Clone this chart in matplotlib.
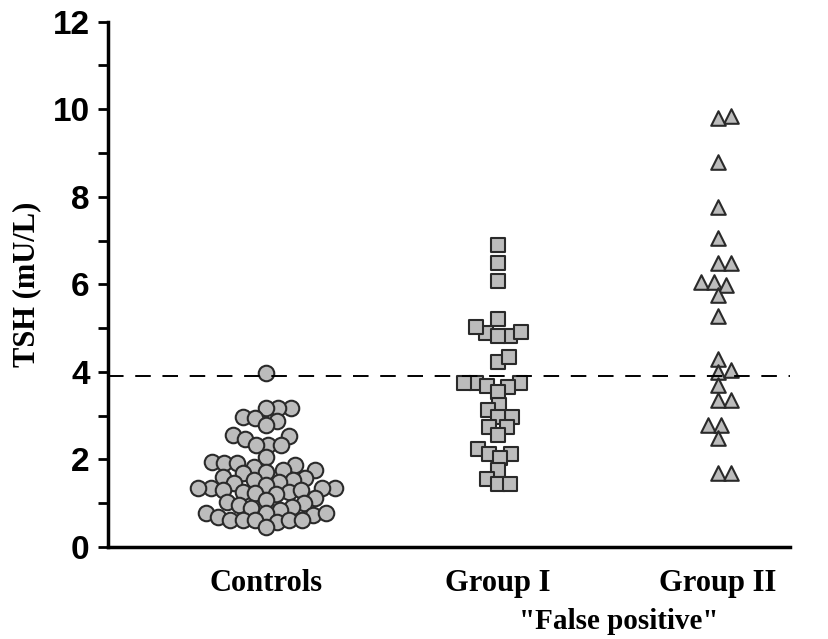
import numpy as np
import matplotlib
matplotlib.use("Agg")
import matplotlib.pyplot as plt
from matplotlib.ticker import MultipleLocator

# TSH values (mU/L)
controls = [3.97,
            3.17, 3.17, 3.17, 2.97, 2.88, 2.94, 2.79,
            2.56, 2.54, 2.47, 2.33, 2.33, 2.33, 2.05,
            1.94, 1.83, 1.87, 1.92, 1.92, 1.76, 1.76, 1.72, 1.68,
            1.57, 1.60, 1.53, 1.53, 1.49, 1.46, 1.42,
            1.35, 1.35, 1.30, 1.35, 1.35, 1.26, 1.26, 1.23, 1.21, 1.30,
            1.12, 1.03, 1.07, 1.00, 0.96, 0.89, 0.91, 0.85,
            0.78, 0.73, 0.78, 0.78, 0.68,
            0.57, 0.62, 0.62, 0.62, 0.62, 0.62, 0.46]
group_1 = [6.90, 6.49, 6.08,
           5.21, 4.89, 4.82, 4.91, 4.82, 5.03,
           4.23, 4.34,
           3.75, 3.75, 3.75, 3.67, 3.65, 3.53,
           3.25, 3.13, 2.98, 2.96,
           2.74, 2.74, 2.56,
           2.24, 2.13, 2.13, 2.03,
           1.76, 1.55, 1.44, 1.44]
group_2 = [9.85, 9.80, 8.80, 7.77, 7.06, 6.49, 6.49, 6.06, 6.06, 5.99,
           5.76, 5.28, 4.30, 4.00, 4.05, 3.70, 3.36, 3.36, 2.79, 2.79,
           2.50, 1.69, 1.69]
cutoff = 3.9
categories = ["Controls", "Group I", "Group II"]
y_ticks = [0, 2, 4, 6, 8, 10, 12]


def swarm(values, dist, x_unit, y_unit):
    # simple beeswarm: place each point as close to the centre as it can go
    ys = np.asarray(values) * y_unit
    xs = np.zeros(len(ys))
    placed = []
    for i in np.argsort(ys):
        y = ys[i]
        cands = [0.0]
        for px, py in placed:
            dy = y - py
            if abs(dy) < dist:
                dx = np.sqrt(dist ** 2 - dy ** 2)
                cands += [px + dx, px - dx]
        cands.sort(key=abs)
        for c in cands:
            if all((c - px) ** 2 + (y - py) ** 2 >= dist ** 2 - 1e-6 for px, py in placed):
                xs[i] = c
                placed.append((c, y))
                break
    return xs / x_unit


fig = plt.figure(figsize=(8.29, 6.39), dpi=100)
ax = fig.add_axes([0.130, 0.144, 0.823, 0.822])
ax.set_xlim(0.32, 3.26)
ax.set_ylim(0, 12)

x_pos = [1, 2, 2.95]
p0 = ax.transData.transform((0, 0))
p1 = ax.transData.transform((1, 1))
x_unit, y_unit = p1 - p0

face = "#bcbcbc"
edge = "#2a2a2a"
groups = [(controls, "o", 125, 12.5), (group_1, "s", 105, 12.0), (group_2, "^", 110, 13.0)]
for pos, (vals, mk, size, dist) in zip(x_pos, groups):
    dx = swarm(vals, dist, x_unit, y_unit)
    ax.scatter(pos + dx, vals, marker=mk, s=size, facecolor=face,
               edgecolor=edge, linewidths=1.5, zorder=3)

ax.axhline(cutoff, color="black", lw=1.4, ls=(0, (8, 6)), zorder=4)

for side in ["top", "right"]:
    ax.spines[side].set_visible(False)
ax.spines["left"].set_linewidth(2.5)
ax.spines["bottom"].set_linewidth(2.5)

ax.set_yticks(y_ticks)
ax.yaxis.set_minor_locator(MultipleLocator(1))
ax.tick_params(axis="y", which="major", length=7, width=2, pad=6)
ax.tick_params(axis="y", which="minor", length=7, width=2)
for lab in ax.get_yticklabels():
    lab.set_fontfamily("Liberation Sans")
    lab.set_fontweight("bold")
    lab.set_fontsize(24)

ax.set_xticks(x_pos)
ax.set_xticklabels(categories, fontfamily="Liberation Serif",
                   fontweight="bold", fontsize=22)
ax.tick_params(axis="x", length=0, pad=16)

ax.text(x_pos[1] + 0.55 * (x_pos[2] - x_pos[1]), -0.116, '"False positive"',
        transform=ax.get_xaxis_transform(), ha="center", va="top",
        fontfamily="Liberation Serif", fontweight="bold", fontsize=21)

ax.set_ylabel("TSH (mU/L)", fontfamily="Liberation Serif", fontweight="bold",
              fontsize=22, labelpad=8)

fig.savefig("out.png", dpi=100)
